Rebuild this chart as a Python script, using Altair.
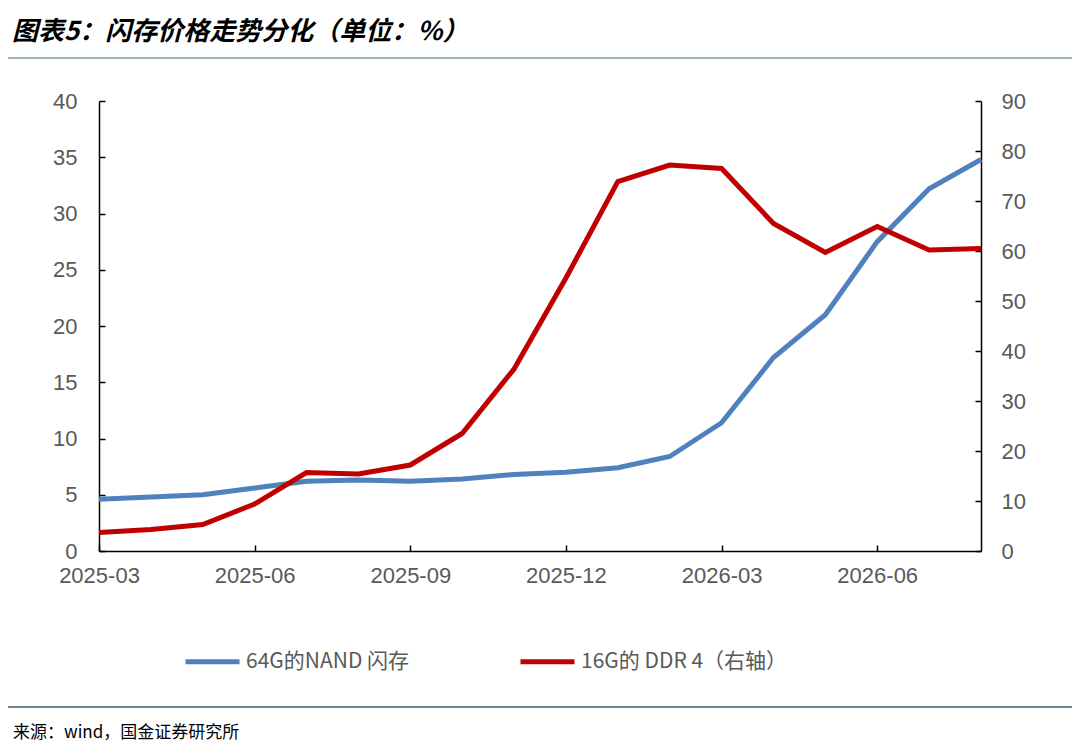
import altair as alt
import pandas as pd

# ---------------- data ----------------
months = ["2025-03", "2025-04", "2025-05", "2025-06", "2025-07", "2025-08",
          "2025-09", "2025-10", "2025-11", "2025-12", "2026-01", "2026-02",
          "2026-03", "2026-04", "2026-05", "2026-06", "2026-07", "2026-08"]
nand_64g = [4.6, 4.8, 5.0, 5.6, 6.2, 6.3, 6.2, 6.4, 6.8, 7.0, 7.4, 8.4,
            11.4, 17.2, 21.0, 27.5, 32.2, 34.8]
ddr4_16g = [3.7, 4.3, 5.3, 9.4, 15.7, 15.4, 17.2, 23.5, 36.4, 54.6, 73.9, 77.2,
            76.5, 65.5, 59.7, 64.9, 60.2, 60.5]

x_tick_labels = ["2025-03", "2025-06", "2025-09", "2025-12", "2026-03", "2026-06"]
left_ticks = [0, 5, 10, 15, 20, 25, 30, 35, 40]
right_ticks = [0, 10, 20, 30, 40, 50, 60, 70, 80, 90]
series_names = ["64G的NAND 闪存", "16G的 DDR 4（右轴）"]
series_colors = ["#4F81BD", "#C00000"]
title_text = "图表5：闪存价格走势分化（单位：%）"
source_text = "来源：wind，国金证券研究所"

df = pd.DataFrame({"month": months, "nand": nand_64g, "ddr4": ddr4_16g})

FONT = "Liberation Sans"
CJK = "Noto Sans CJK SC"
GRAY = "#595959"
INWARD = alt.ExprRef(expr="-6")

x_enc = alt.X(
    "month:O", sort=months,
    scale=alt.Scale(type="point", padding=0),
    axis=alt.Axis(values=x_tick_labels, title=None, labelAngle=0,
                  tickSize=INWARD, labelPadding=20, labelFont=FONT,
                  labelFontSize=22, labelColor=GRAY),
)
color_scale = alt.Scale(domain=series_names, range=series_colors)
legend = alt.Legend(
    title=None, orient="none", legendX=84, legendY=531, direction="horizontal",
    symbolType="stroke", symbolStrokeWidth=5, symbolSize=2916,
    labelFont=CJK, labelFontSize=21, labelColor=GRAY, labelLimit=400,
    columnPadding=100, labelOffset=4,
)

base = alt.Chart(df)

blue = base.transform_calculate(series=f"'{series_names[0]}'").mark_line(
    strokeWidth=5
).encode(
    x=x_enc,
    y=alt.Y("nand:Q", scale=alt.Scale(domain=[0, 40], nice=False),
            axis=alt.Axis(orient="left", values=left_ticks, title=None, grid=False,
                          tickSize=INWARD, labelPadding=28, labelFont=FONT,
                          labelFontSize=22, labelColor=GRAY)),
    color=alt.Color("series:N", scale=color_scale, legend=legend),
)

red = base.transform_calculate(series=f"'{series_names[1]}'").mark_line(
    strokeWidth=5
).encode(
    x=x_enc,
    y=alt.Y("ddr4:Q", scale=alt.Scale(domain=[0, 90], nice=False),
            axis=alt.Axis(orient="right", values=right_ticks, title=None, grid=False,
                          tickSize=INWARD, labelPadding=26, labelFont=FONT,
                          labelFontSize=22, labelColor=GRAY)),
    color=alt.Color("series:N", scale=color_scale, legend=legend),
)

title_mark = alt.Chart(alt.Data(values=[{"t": title_text}])).mark_text(
    font=CJK, fontSize=26, fontWeight="bold", fontStyle="italic",
    align="left", baseline="middle", color="#000000"
).encode(text="t:N", x=alt.value(-87), y=alt.value(-69))

source_mark = alt.Chart(alt.Data(values=[{"t": source_text}])).mark_text(
    font=CJK, fontSize=17, align="left", baseline="middle", color="#000000"
).encode(text="t:N", x=alt.value(-86), y=alt.value(632))

top_rule = alt.Chart(alt.Data(values=[{}])).mark_rule(
    color="#9BB3BA", strokeWidth=2
).encode(x=alt.value(-93), x2=alt.value(973), y=alt.value(-43))

bottom_rule = alt.Chart(alt.Data(values=[{}])).mark_rule(
    color="#3E5A6A", strokeWidth=1.5
).encode(x=alt.value(-96), x2=alt.value(973), y=alt.value(606))

chart = alt.layer(blue, red, title_mark, source_mark, top_rule, bottom_rule).resolve_scale(
    y="independent"
).properties(
    width=882, height=450,
    autosize=alt.AutoSizeParams(type="none"),
    padding={"left": 91, "top": 93, "right": 91, "bottom": 202},
).configure_view(stroke=None).configure_axis(
    domainColor="#000000", domainWidth=1.5, tickColor="#000000", tickWidth=1.5
)

chart.save("out.html", embed_options={"renderer": "svg", "actions": False})
